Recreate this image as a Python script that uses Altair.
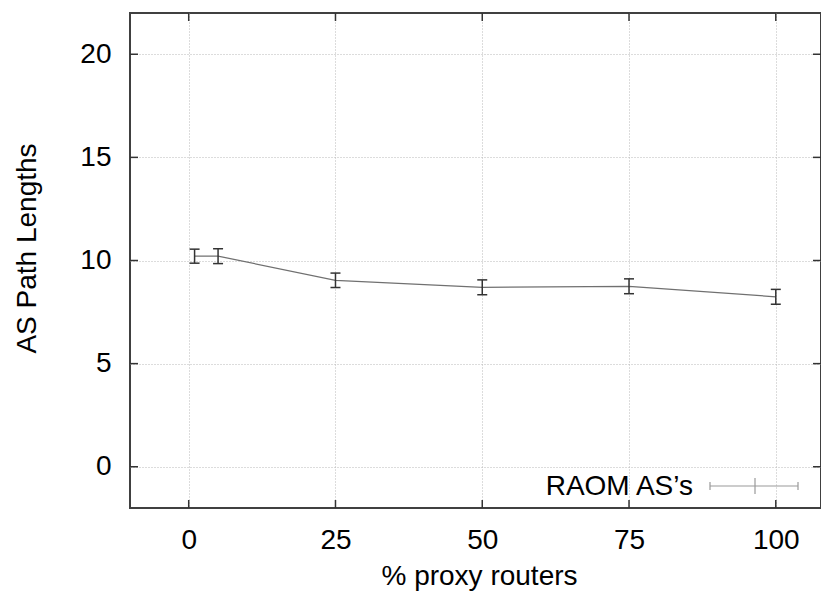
import altair as alt
import pandas as pd

# ---- data ----
x_vals = [1, 5, 25, 50, 75, 100]
y_vals = [10.21, 10.21, 9.04, 8.70, 8.75, 8.24]
y_err = [0.34, 0.36, 0.35, 0.36, 0.36, 0.36]
x_ticks = [0, 25, 50, 75, 100]
y_ticks = [0, 5, 10, 15, 20]
series_name = "RAOM AS\u2019s"
x_title = "% proxy routers"
y_title = "AS Path Lengths"

df = pd.DataFrame({
    "x": x_vals,
    "y": y_vals,
    "lo": [v - e for v, e in zip(y_vals, y_err)],
    "hi": [v + e for v, e in zip(y_vals, y_err)],
})
xt = pd.DataFrame({"v": x_ticks})
yt = pd.DataFrame({"v": y_ticks})
leg = pd.DataFrame({"label": [series_name]})

W, H = 691, 495
FONT = "Liberation Sans"
xs = alt.Scale(domain=[-10, 107.7], nice=False, zero=False)
ys = alt.Scale(domain=[-2, 22], nice=False, zero=False)

common_axis = dict(
    grid=True, gridColor="#b8b8b8", gridDash=[1, 2], gridWidth=1,
    ticks=False, tickSize=0, domain=False,
    labelFont=FONT, labelFontSize=28, labelColor="black", labelFlush=False,
    titleFont=FONT, titleFontSize=28, titleFontWeight="normal", titleColor="black",
    titleBaseline="alphabetic",
)
x_axis = alt.Axis(values=x_ticks, title=x_title, labelPadding=18,
                  titleX=349, titleY=76, **common_axis)
y_axis = alt.Axis(values=y_ticks, title=y_title, labelPadding=19,
                  titleX=-95, titleY=235, **common_axis)


def X(f):
    return alt.X(f, scale=xs, axis=x_axis)


def Y(f):
    return alt.Y(f, scale=ys, axis=y_axis)


line = alt.Chart(df).mark_line(color="#707070", strokeWidth=1.2).encode(
    x=X("x:Q"), y=Y("y:Q"),
)

ebar = alt.Chart(df).mark_rule(color="#333333", strokeWidth=1.5).encode(
    x=X("x:Q"), y=Y("lo:Q"), y2="hi:Q",
)
cap_shape = "M-1,0L1,0"
cap_lo = alt.Chart(df).mark_point(shape=cap_shape, size=100, color="#333333",
                                  strokeWidth=1.5, filled=False, opacity=1).encode(
    x=X("x:Q"), y=Y("lo:Q"),
)
cap_hi = alt.Chart(df).mark_point(shape=cap_shape, size=100, color="#333333",
                                  strokeWidth=1.5, filled=False, opacity=1).encode(
    x=X("x:Q"), y=Y("hi:Q"),
)

TK = 8
tick_color = "#333333"
left_t = alt.Chart(yt).mark_rule(color=tick_color, strokeWidth=1.5).encode(
    y=Y("v:Q"), x=alt.value(0), x2=alt.value(TK))
right_t = alt.Chart(yt).mark_rule(color=tick_color, strokeWidth=1.5).encode(
    y=Y("v:Q"), x=alt.value(W - TK), x2=alt.value(W))
bot_t = alt.Chart(xt).mark_rule(color=tick_color, strokeWidth=1.5).encode(
    x=X("v:Q"), y=alt.value(H - TK), y2=alt.value(H))
top_t = alt.Chart(xt).mark_rule(color=tick_color, strokeWidth=1.5).encode(
    x=X("v:Q"), y=alt.value(0), y2=alt.value(TK))

# legend (bottom right, inside the plot)
leg_text = alt.Chart(leg).mark_text(align="right", baseline="alphabetic",
                                    font=FONT, fontSize=28, color="black").encode(
    text="label:N", x=alt.value(563), y=alt.value(482))
leg_line = alt.Chart(leg).mark_rule(color="#999999", strokeWidth=1.2).encode(
    x=alt.value(580), x2=alt.value(668), y=alt.value(473))
leg_c1 = alt.Chart(leg).mark_rule(color="#999999", strokeWidth=1.2).encode(
    x=alt.value(580), y=alt.value(469), y2=alt.value(477))
leg_c2 = alt.Chart(leg).mark_rule(color="#999999", strokeWidth=1.2).encode(
    x=alt.value(668), y=alt.value(469), y2=alt.value(477))
leg_c3 = alt.Chart(leg).mark_rule(color="#999999", strokeWidth=1.2).encode(
    x=alt.value(625), y=alt.value(465), y2=alt.value(481))

chart = alt.layer(
    line, ebar, cap_lo, cap_hi,
    left_t, right_t, bot_t, top_t,
    leg_line, leg_c1, leg_c2, leg_c3, leg_text,
).properties(
    width=W, height=H,
    autosize=alt.AutoSizeParams(type="none"),
    padding={"left": 122, "top": 5, "right": 0, "bottom": 83},
    background="white",
).configure_view(
    stroke="#404040", strokeWidth=2,
)

chart.save("out.html", embed_options={"renderer": "svg", "actions": False})
